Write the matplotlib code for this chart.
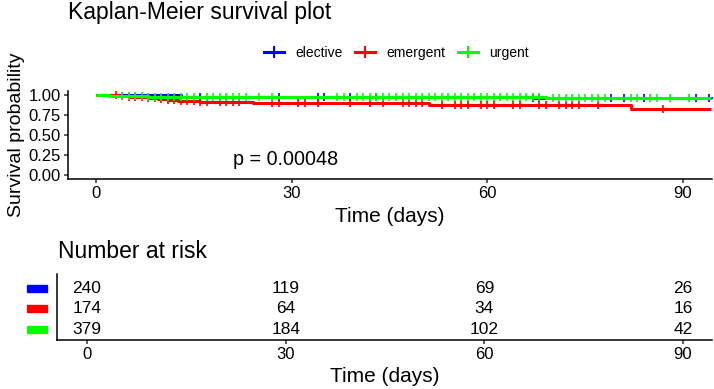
import numpy as np
import matplotlib
matplotlib.use("Agg")
import matplotlib.pyplot as plt
from matplotlib.lines import Line2D
from matplotlib.patches import Rectangle
import matplotlib.transforms as mtrans

plt.rcParams['font.family'] = ['Liberation Sans', 'DejaVu Sans']

groups = ['elective', 'emergent', 'urgent']
colors = ['#0000FF', '#FF0000', '#00FF00']

# survival steps (time, survival)
elective_t = [0, 13, 67]
elective_s = [1.0, 0.98, 0.96]
emergent_t = [0, 3.5, 5, 6.5, 8, 9.5, 11, 12.5, 14, 16, 24, 51, 82]
emergent_s = [1.0, 0.99, 0.98, 0.97, 0.96, 0.95, 0.94, 0.93, 0.92, 0.91, 0.90, 0.88, 0.83]
urgent_t = [0, 2, 8, 15, 69]
urgent_s = [1.0, 0.99, 0.98, 0.975, 0.965]
end_time = 94.3

# censor times
elective_c = [16, 28, 34, 35, 39, 43, 67, 68, 79, 81, 84, 92, 94]
emergent_c = [3, 4, 5, 6, 7, 8, 9, 10, 11, 12, 13, 14, 15, 16, 17, 19, 20, 21, 22,
              27, 28, 31, 32, 34, 39, 42, 44, 47, 48, 49, 50, 53, 55, 56, 57, 59,
              60, 61, 64, 65, 68, 69, 71, 72, 73, 74, 77, 87]
urgent_c = [4, 5, 6, 7, 8, 9, 10, 11, 12, 13, 14, 15, 17, 18, 19, 20, 21, 22, 23,
            25, 27, 37, 38, 40, 41, 42, 43, 44, 45, 46, 47, 48, 49, 50, 51, 52, 53,
            54, 55, 56, 57, 58, 59, 60, 61, 62, 63, 64, 65, 66, 67, 68, 70, 71, 72,
            73, 74, 75, 76, 77, 78, 82, 83, 85, 86, 88, 91]

risk_times = [0, 30, 60, 90]
risk_elective = [240, 119, 69, 26]
risk_emergent = [174, 64, 34, 16]
risk_urgent = [379, 184, 102, 42]

curves = [(elective_t, elective_s, elective_c),
          (emergent_t, emergent_s, emergent_c),
          (urgent_t, urgent_s, urgent_c)]
risks = [risk_elective, risk_emergent, risk_urgent]

fig = plt.figure(figsize=(7.14, 3.89), dpi=100)

# ---- survival plot ----
ax = fig.add_axes([68/714, 1-179/389, 644/714, 88/389])
for (t, s, c), col in zip(curves, colors):
    t = np.array(t, float); s = np.array(s, float)
    ax.step(np.append(t, end_time), np.append(s, s[-1]), where='post',
            color=col, lw=2.2, solid_capstyle='butt')
    idx = np.searchsorted(t, c, side='right') - 1
    ax.plot(c, s[idx], '+', color=col, ms=6, mew=1.2, ls='none')

ax.set_xlim(-4.29, 94.45)
ax.set_ylim(-0.05, 1.05)
ax.set_xticks([0, 30, 60, 90])
ax.set_yticks([0, 0.25, 0.5, 0.75, 1.0])
ax.set_yticklabels(['0.00', '0.25', '0.50', '0.75', '1.00'])
for sp in ['top', 'right']:
    ax.spines[sp].set_visible(False)
for sp in ['left', 'bottom']:
    ax.spines[sp].set_linewidth(1.1)
ax.tick_params(labelsize=12, length=3, width=1.1, color='#333333', pad=2)
ax.set_xlabel('Time (days)', fontsize=15, labelpad=4)
ax.set_ylabel('Survival probability', fontsize=14, labelpad=3)
ax.text(21, 0.19, 'p = 0.00048', fontsize=14.2, va='center', ha='left')

fig.text(68/714, 1-13/389, 'Kaplan-Meier survival plot', fontsize=16.5,
         ha='left', va='center')

handles = [Line2D([], [], color=c, lw=2.2, marker='+', ms=8, mew=1.5) for c in colors]
fig.legend(handles, groups, loc='center', bbox_to_anchor=(396/714, 1-53/389),
           ncol=3, frameon=False, fontsize=10, handlelength=1.45,
           handletextpad=0.8, columnspacing=0.9)

# ---- risk table ----
rt = fig.add_axes([57/714, 1-340/389, 655/714, 66.5/389])
ypos = [3, 2, 1]
for vals, y in zip(risks, ypos):
    for x, v in zip(risk_times, vals):
        rt.text(x, y, str(v), ha='center', va='center', fontsize=12.5)
rt.set_xlim(-4.53, 94.38)
rt.set_ylim(0.48, 3.71)
rt.set_xticks([0, 30, 60, 90])
rt.set_yticks([])
for sp in ['top', 'right']:
    rt.spines[sp].set_visible(False)
for sp in ['left', 'bottom']:
    rt.spines[sp].set_linewidth(1.1)
rt.tick_params(labelsize=12, length=3, width=1.1, color='#333333', pad=2)
rt.set_xlabel('Time (days)', fontsize=15, labelpad=4)
trans = mtrans.blended_transform_factory(rt.transAxes, rt.transData)
for y, col in zip(ypos, colors):
    rt.add_patch(Rectangle((-0.046, y - 0.17), 0.031, 0.34, transform=trans,
                           color=col, clip_on=False))

fig.text(58/714, 1-252/389, 'Number at risk', fontsize=16.5, ha='left', va='center')

fig.savefig('out.png', dpi=100)
